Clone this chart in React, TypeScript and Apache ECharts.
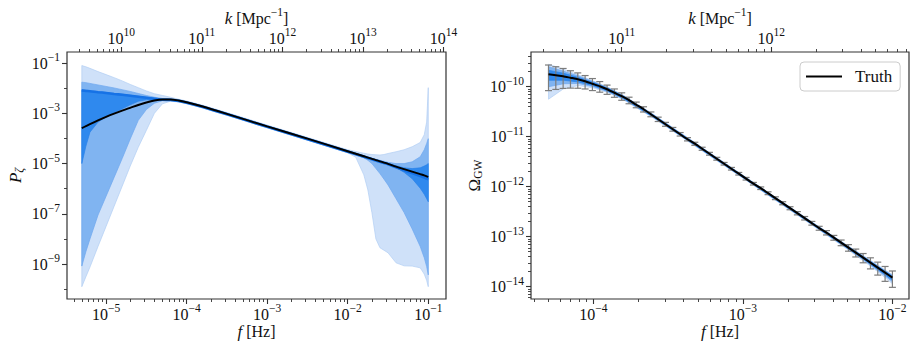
import { useEffect, useRef } from "react";
import * as echarts from "echarts";

const FONT = "'Liberation Serif', 'Times New Roman', serif";
const INK = "#111111";
const FRAME = "#333333";
const LIGHT = "#cfe1f9";
const LIGHT_EDGE = "#b2cff4";
const MID = "#80b4f1";
const MID_EDGE = "#6ea8ef";
const DARK = "#2f89ee";
const DARK_EDGE = "#2a82ea";
const MEDIAN = "#1672e6";
const ERR = "#7c7c7c";

// log10(k / f), k in Mpc^-1, f in Hz
const K_OFFSET = 14.811;

// ---------- Left panel: P_zeta(f) (all values are log10) ----------
const P_X_RANGE = [-5.485, -0.78];
const P_Y_RANGE = [-10.39, -0.56];
const P_LOGF = [-5.301, -5.25, -5.2, -5.1, -5.0, -4.9, -4.8, -4.7, -4.6, -4.5, -4.4, -4.3, -4.2, -4.1, -4.0, -3.8, -3.5, -3.0, -2.5, -2.0, -1.9, -1.8, -1.75, -1.7, -1.65, -1.6, -1.55, -1.5, -1.4, -1.3, -1.2, -1.1, -1.05, -1.02, -1.0];
const P_TRUTH = [-3.59, -3.51, -3.43, -3.28, -3.14, -3.01, -2.89, -2.78, -2.67, -2.57, -2.49, -2.45, -2.45, -2.49, -2.56, -2.73, -3.02, -3.52, -4.01, -4.51, -4.61, -4.71, -4.76, -4.81, -4.86, -4.91, -4.96, -5.01, -5.12, -5.22, -5.32, -5.42, -5.47, -5.51, -5.53];
const P_MEDIAN = [-2.09, -2.11, -2.12, -2.16, -2.19, -2.23, -2.26, -2.3, -2.34, -2.38, -2.42, -2.46, -2.47, -2.51, -2.58, -2.75, -3.04, -3.54, -4.03, -4.53, -4.63, -4.73, -4.78, -4.83, -4.88, -4.93, -4.98, -5.03, -5.15, -5.27, -5.38, -5.5, -5.56, -5.6, -5.62];
const P_1S_HI = [-2.06, -2.08, -2.1, -2.14, -2.17, -2.21, -2.24, -2.28, -2.32, -2.36, -2.4, -2.43, -2.43, -2.47, -2.54, -2.71, -3.0, -3.5, -3.99, -4.49, -4.59, -4.69, -4.74, -4.79, -4.84, -4.89, -4.94, -4.99, -5.09, -5.17, -5.2, -5.17, -5.1, -5.05, -5.0];
const P_1S_LO = [-5.0, -4.3, -3.75, -3.35, -3.15, -2.98, -2.82, -2.66, -2.52, -2.46, -2.47, -2.48, -2.48, -2.52, -2.59, -2.76, -3.05, -3.55, -4.04, -4.54, -4.64, -4.74, -4.79, -4.84, -4.89, -4.94, -4.99, -5.04, -5.16, -5.35, -5.6, -5.98, -6.22, -6.4, -6.52];
const P_2S_HI = [-1.76, -1.78, -1.81, -1.87, -1.93, -1.99, -2.06, -2.13, -2.21, -2.29, -2.36, -2.41, -2.42, -2.46, -2.53, -2.7, -2.99, -3.49, -3.98, -4.48, -4.58, -4.68, -4.73, -4.78, -4.83, -4.87, -4.91, -4.95, -5.0, -5.0, -4.93, -4.73, -4.45, -4.2, -4.01];
const P_2S_LO = [-9.08, -8.5, -8.0, -7.05, -6.3, -5.55, -4.8, -4.02, -3.28, -2.85, -2.6, -2.5, -2.49, -2.53, -2.6, -2.77, -3.06, -3.56, -4.05, -4.55, -4.65, -4.77, -4.87, -5.0, -5.2, -5.4, -5.62, -5.85, -6.4, -6.95, -7.6, -8.3, -8.75, -9.1, -9.43];
const P_3S_HI = [-1.1, -1.15, -1.21, -1.34, -1.46, -1.58, -1.71, -1.85, -1.98, -2.11, -2.22, -2.29, -2.36, -2.44, -2.51, -2.68, -2.97, -3.47, -3.96, -4.45, -4.52, -4.59, -4.62, -4.64, -4.65, -4.66, -4.64, -4.6, -4.53, -4.45, -4.33, -4.16, -3.85, -3.35, -1.98];
const P_3S_LO = [-9.9, -9.5, -9.12, -8.3, -7.5, -6.7, -5.9, -5.1, -4.35, -3.68, -3.0, -2.62, -2.52, -2.55, -2.62, -2.79, -3.08, -3.58, -4.07, -4.57, -4.75, -5.45, -6.05, -6.95, -8.0, -8.35, -8.45, -8.55, -8.95, -9.07, -9.08, -9.15, -9.4, -9.65, -9.9];

// ---------- Right panel: Omega_GW(f) (log10) ----------
const O_X_RANGE = [-4.418, -1.889];
const O_Y_RANGE = [-14.247, -9.305];
const O_LOGF = [-4.301, -4.252, -4.203, -4.154, -4.105, -4.056, -4.007, -3.958, -3.909, -3.86, -3.811, -3.762, -3.714, -3.665, -3.616, -3.567, -3.518, -3.469, -3.42, -3.371, -3.322, -3.273, -3.224, -3.175, -3.126, -3.077, -3.028, -2.979, -2.93, -2.881, -2.832, -2.783, -2.734, -2.685, -2.636, -2.587, -2.539, -2.49, -2.441, -2.392, -2.343, -2.294, -2.245, -2.196, -2.147, -2.098, -2.049, -2.0];
const O_TRUTH = [-9.75, -9.77, -9.79, -9.82, -9.85, -9.89, -9.94, -9.99, -10.05, -10.12, -10.19, -10.27, -10.36, -10.45, -10.55, -10.65, -10.75, -10.85, -10.95, -11.05, -11.14, -11.24, -11.34, -11.44, -11.54, -11.64, -11.74, -11.84, -11.94, -12.03, -12.13, -12.23, -12.33, -12.43, -12.53, -12.63, -12.73, -12.83, -12.92, -13.02, -13.12, -13.22, -13.32, -13.42, -13.52, -13.62, -13.72, -13.82];
const O_ERR_FRAC = [0.53, 0.48, 0.43, 0.38, 0.34, 0.3, 0.27, 0.24, 0.21, 0.19, 0.17, 0.15, 0.13, 0.12, 0.11, 0.1, 0.09, 0.085, 0.08, 0.075, 0.07, 0.07, 0.065, 0.065, 0.06, 0.06, 0.06, 0.06, 0.06, 0.06, 0.065, 0.065, 0.07, 0.07, 0.075, 0.08, 0.085, 0.09, 0.1, 0.11, 0.13, 0.15, 0.18, 0.21, 0.25, 0.29, 0.33, 0.36];
const O_BAND_LOGF = [-4.301, -4.2, -4.1, -4.0, -3.9, -3.8, -3.6, -3.0, -2.5, -2.3, -2.2, -2.1, -2.0];
const O_3S_HI = [-9.55, -9.65, -9.765, -9.885, -10.015, -10.17, -10.55, -11.77, -12.78, -13.175, -13.37, -13.565, -13.76];
const O_3S_LO = [-10.25, -10.04, -9.975, -10.025, -10.12, -10.26, -10.625, -11.83, -12.845, -13.255, -13.47, -13.695, -13.94];
const O_2S_HI = [-9.6, -9.69, -9.785, -9.9, -10.025, -10.18, -10.56, -11.778, -12.788, -13.185, -13.38, -13.58, -13.775];
const O_2S_LO = [-10.0, -9.94, -9.935, -10.0, -10.105, -10.245, -10.615, -11.822, -12.835, -13.24, -13.45, -13.67, -13.9];
const O_1S_HI = [-9.67, -9.73, -9.815, -9.915, -10.035, -10.19, -10.567, -11.785, -12.795, -13.193, -13.39, -13.59, -13.79];
const O_1S_LO = [-9.87, -9.87, -9.905, -9.98, -10.09, -10.235, -10.605, -11.815, -12.827, -13.23, -13.435, -13.65, -13.87];

// ---------- Tick labels (exponents of 10) ----------
const P_F_TICKS = [-5, -4, -3, -2, -1];
const P_K_TICKS = [10, 11, 12, 13, 14];
const P_Y_TICKS = [-9, -7, -5, -3, -1];
const P_Y_MINOR = [-10, -8, -6, -4, -2];
const O_F_TICKS = [-4, -3, -2];
const O_K_TICKS = [11, 12];
const O_Y_TICKS = [-14, -13, -12, -11, -10];
const MINOR_MULTIPLIERS = [2, 3, 4, 5, 6, 7, 8, 9];

function decadeMinors(min: number, max: number): number[] {
  const out: number[] = [];
  for (let d = Math.floor(min); d <= Math.ceil(max); d++) {
    for (const m of MINOR_MULTIPLIERS) {
      const v = d + Math.log10(m);
      if (v > min && v < max) out.push(+v.toFixed(6));
    }
  }
  return out;
}

const sup = (v: number) => (v < 0 ? "\u2212" + Math.abs(v) : String(v));
const powLabel = (v: number) => `{b|10}{s|${sup(Math.round(v))}}`;

const TICK_RICH = {
  b: { fontFamily: FONT, fontSize: 16, lineHeight: 24, color: INK },
  s: { fontFamily: FONT, fontSize: 11.5, lineHeight: 12, verticalAlign: "top", color: INK },
};
const NAME_RICH_X = {
  i: { fontFamily: FONT, fontStyle: "italic", fontSize: 17, lineHeight: 24, color: INK },
  r: { fontFamily: FONT, fontSize: 16, lineHeight: 24, color: INK },
  s: { fontFamily: FONT, fontSize: 11.5, lineHeight: 12, verticalAlign: "top", color: INK },
};
const NAME_RICH_Y = {
  i: { fontFamily: FONT, fontStyle: "italic", fontSize: 17, lineHeight: 20, color: INK },
  r: { fontFamily: FONT, fontSize: 17, lineHeight: 20, color: INK },
  subi: { fontFamily: FONT, fontStyle: "italic", fontSize: 12, lineHeight: 12, verticalAlign: "bottom", color: INK },
  sub: { fontFamily: FONT, fontSize: 11.5, lineHeight: 12, verticalAlign: "bottom", color: INK },
};

function majorAxis(gridIndex: number, position: string, range: number[], ticks: number[], margin: number, name: string, nameGap: number, rich: any, extra: any = {}) {
  return {
    type: "value",
    gridIndex,
    position,
    min: range[0],
    max: range[1],
    axisLine: { show: false },
    splitLine: { show: false },
    axisTick: { show: true, inside: false, length: 5, customValues: ticks, lineStyle: { color: FRAME, width: 1.1 } },
    axisLabel: { show: true, customValues: ticks, margin, formatter: (v: number) => powLabel(v), rich: TICK_RICH, color: INK, fontFamily: FONT, fontSize: 16 },
    name,
    nameLocation: "middle",
    nameGap,
    nameMoveOverlap: false,
    nameTextStyle: { fontFamily: FONT, fontSize: 16, lineHeight: 24, color: INK, rich },
    ...extra,
  };
}

function minorAxis(gridIndex: number, position: string, range: number[], ticks: number[]) {
  return {
    type: "value",
    gridIndex,
    position,
    min: range[0],
    max: range[1],
    axisLine: { show: false },
    splitLine: { show: false },
    axisTick: { show: true, inside: false, length: 3, customValues: ticks, lineStyle: { color: FRAME, width: 0.9 } },
    axisLabel: { show: false },
  };
}

function bandPolygon(xs: number[], hi: number[], lo: number[]) {
  const upper = xs.map((x, i) => [x, hi[i]]);
  const lower = xs.map((x, i) => [x, lo[i]]).reverse();
  return upper.concat(lower);
}

function bandSeries(name: string, pts: number[][], fill: string, stroke: string, xi: number, yi: number) {
  return {
    type: "custom",
    name,
    xAxisIndex: xi,
    yAxisIndex: yi,
    silent: true,
    data: pts,
    encode: { x: 0, y: 1 },
    renderItem: (params: any, api: any) => {
      if (params.dataIndex !== 0) return null;
      const points = pts.map((p) => api.coord(p));
      return { type: "polygon", shape: { points }, style: { fill, stroke, lineWidth: 0.7 } };
    },
  };
}

function buildOption() {
  const pKRange = [P_X_RANGE[0] + K_OFFSET, P_X_RANGE[1] + K_OFFSET];
  const oKRange = [O_X_RANGE[0] + K_OFFSET, O_X_RANGE[1] + K_OFFSET];

  const errData = O_LOGF.map((x, i) => {
    const c = O_TRUTH[i];
    const s = O_ERR_FRAC[i];
    return [x, c + Math.log10(1 - s), c + Math.log10(1 + s)];
  });

  const kName = "{i|k} {r|[Mpc}{s|\u22121}{r|]}";
  const xAxis = [
    majorAxis(0, "bottom", P_X_RANGE, P_F_TICKS, 3, "{i|f} {r|[Hz]}", 20, NAME_RICH_X),
    minorAxis(0, "bottom", P_X_RANGE, decadeMinors(P_X_RANGE[0], P_X_RANGE[1])),
    majorAxis(0, "top", pKRange, P_K_TICKS, 2, kName, 22, NAME_RICH_X),
    minorAxis(0, "top", pKRange, decadeMinors(pKRange[0], pKRange[1])),
    majorAxis(1, "bottom", O_X_RANGE, O_F_TICKS, 3, "{i|f} {r|[Hz]}", 20, NAME_RICH_X),
    minorAxis(1, "bottom", O_X_RANGE, decadeMinors(O_X_RANGE[0], O_X_RANGE[1])),
    majorAxis(1, "top", oKRange, O_K_TICKS, 2, kName, 22, NAME_RICH_X),
    minorAxis(1, "top", oKRange, decadeMinors(oKRange[0], oKRange[1])),
  ];
  const yAxis = [
    majorAxis(0, "left", P_Y_RANGE, P_Y_TICKS, 7, "{i|P}{subi|\u03b6}", 42, NAME_RICH_Y, { nameRotate: 90 }),
    minorAxis(0, "left", P_Y_RANGE, P_Y_MINOR),
    majorAxis(1, "left", O_Y_RANGE, O_Y_TICKS, 7, "{r|\u03a9}{sub|GW}", 47, NAME_RICH_Y, { nameRotate: 90 }),
    minorAxis(1, "left", O_Y_RANGE, decadeMinors(O_Y_RANGE[0], O_Y_RANGE[1])),
  ];

  const series: any[] = [
    bandSeries("P 3sigma", bandPolygon(P_LOGF, P_3S_HI, P_3S_LO), LIGHT, LIGHT_EDGE, 0, 0),
    bandSeries("P 2sigma", bandPolygon(P_LOGF, P_2S_HI, P_2S_LO), MID, MID_EDGE, 0, 0),
    bandSeries("P 1sigma", bandPolygon(P_LOGF, P_1S_HI, P_1S_LO), DARK, DARK_EDGE, 0, 0),
    {
      type: "line",
      name: "P median",
      xAxisIndex: 0,
      yAxisIndex: 0,
      data: P_LOGF.map((x, i) => [x, P_MEDIAN[i]]),
      showSymbol: false,
      symbol: "none",
      smooth: 0.2,
      lineStyle: { color: MEDIAN, width: 2.6 },
      silent: true,
    },
    {
      type: "line",
      name: "P truth",
      xAxisIndex: 0,
      yAxisIndex: 0,
      data: P_LOGF.map((x, i) => [x, P_TRUTH[i]]),
      showSymbol: false,
      symbol: "none",
      smooth: 0.3,
      lineStyle: { color: "#000000", width: 1.9 },
      silent: true,
    },
    bandSeries("Omega 3sigma", bandPolygon(O_BAND_LOGF, O_3S_HI, O_3S_LO), LIGHT, LIGHT_EDGE, 4, 2),
    bandSeries("Omega 2sigma", bandPolygon(O_BAND_LOGF, O_2S_HI, O_2S_LO), MID, MID_EDGE, 4, 2),
    bandSeries("Omega 1sigma", bandPolygon(O_BAND_LOGF, O_1S_HI, O_1S_LO), DARK, DARK_EDGE, 4, 2),
    {
      type: "custom",
      name: "errors",
      xAxisIndex: 4,
      yAxisIndex: 2,
      silent: true,
      data: errData,
      encode: { x: 0, y: [1, 2] },
      renderItem: (params: any, api: any) => {
        const x = api.value(0);
        const lo = api.coord([x, api.value(1)]);
        const hi = api.coord([x, api.value(2)]);
        const w = 3.5;
        const style = { stroke: ERR, lineWidth: 1.2 };
        return {
          type: "group",
          children: [
            { type: "line", shape: { x1: lo[0], y1: lo[1], x2: hi[0], y2: hi[1] }, style },
            { type: "line", shape: { x1: lo[0] - w, y1: lo[1], x2: lo[0] + w, y2: lo[1] }, style },
            { type: "line", shape: { x1: hi[0] - w, y1: hi[1], x2: hi[0] + w, y2: hi[1] }, style },
          ],
        };
      },
    },
    {
      type: "line",
      name: "Truth",
      xAxisIndex: 4,
      yAxisIndex: 2,
      data: O_LOGF.map((x, i) => [x, O_TRUTH[i]]),
      showSymbol: false,
      symbol: "none",
      smooth: 0.2,
      lineStyle: { color: "#000000", width: 2 },
      itemStyle: { color: "#000000" },
      silent: true,
    },
  ];

  return {
    animation: false,
    backgroundColor: "#ffffff",
    textStyle: { fontFamily: FONT },
    grid: [
      { left: 67, right: 472, top: 52, bottom: 51, show: true, borderColor: FRAME, borderWidth: 1.2, backgroundColor: "transparent", containLabel: false, outerBoundsMode: "none" },
      { left: 531, right: 9, top: 52, bottom: 51, show: true, borderColor: FRAME, borderWidth: 1.2, backgroundColor: "transparent", containLabel: false, outerBoundsMode: "none" },
    ],
    legend: {
      data: [{ name: "Truth", icon: "rect" }],
      left: 800,
      top: 62,
      itemWidth: 36,
      itemHeight: 2,
      padding: [6, 8, 6, 6],
      borderColor: "#cccccc",
      borderWidth: 1,
      borderRadius: 4,
      backgroundColor: "#ffffff",
      selectedMode: false,
      textStyle: { fontFamily: FONT, fontSize: 17, color: INK, padding: [0, 0, 0, 8] },
    },
    xAxis,
    yAxis,
    series,
  };
}

export default function App() {
  const ref = useRef<HTMLDivElement>(null);
  useEffect(() => {
    if (!ref.current) return;
    const chart = echarts.init(ref.current, undefined, { renderer: "svg" });
    chart.setOption(buildOption() as any);
    return () => chart.dispose();
  }, []);
  return (
    <div
      ref={ref}
      style={{ position: "fixed", left: 0, top: 0, width: 918, height: 350, background: "#ffffff" }}
    />
  );
}
